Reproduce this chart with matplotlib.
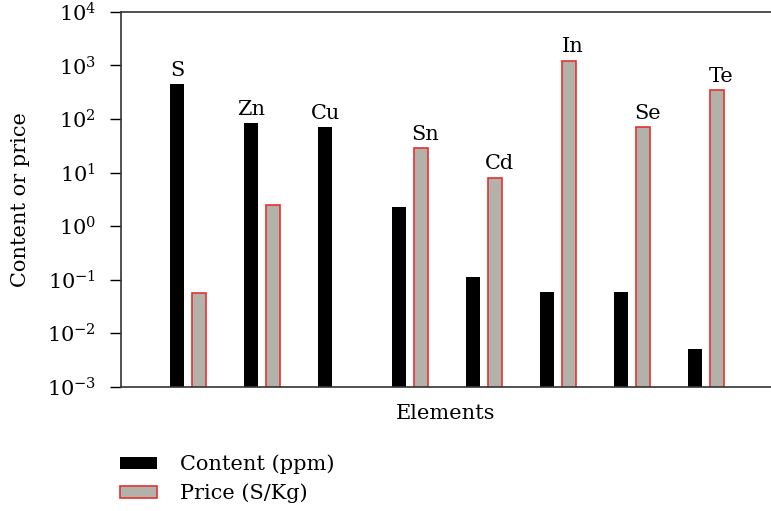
import matplotlib.pyplot as plt
import numpy as np

# Daten
elements = ["S", "Zn", "Cu", "Sn", "Cd", "In", "Se", "Te"]
content = [450, 85, 70, 2.3, 0.115, 0.058, 0.058, 0.0052]      # ppm
price = [0.057, 2.5, np.nan, 29, 8.1, 1230, 71, 350]            # S/Kg

plt.rcParams['font.family'] = ['DejaVu Serif']

fig = plt.figure(figsize=(7.71, 5.11), dpi=100)
ax = fig.add_axes([0.157, 0.2427, 0.843, 0.734])

x = np.arange(len(elements))
w = 0.19
off = 0.145
ax.bar(x - off, content, w, color='black', label='Content (ppm)', log=True)
ax.bar(x + off, price, w, color='#b2b2aa', edgecolor='#e8312f', linewidth=1.2,
       label='Price (S/Kg)', log=True)

# Beschriftung über dem höheren Balken
for i, el in enumerate(elements):
    c, p = content[i], price[i]
    if np.isnan(p) or c >= p:
        xi, top = x[i] - off, c
    else:
        xi, top = x[i] + off + 0.06, p
    ax.text(xi, top * 1.2, el, ha='center', va='bottom', fontsize=15)

ax.set_yscale('log')
ax.set_ylim(1e-3, 1e4)
ax.set_xlim(-0.905, 7.88)
ax.set_xticks([])
ax.yaxis.set_minor_locator(plt.NullLocator())
ax.tick_params(axis='y', which='major', length=8, width=1, labelsize=15, pad=10)
ax.spines['right'].set_visible(False)
for s in ['left', 'top', 'bottom']:
    ax.spines[s].set_linewidth(1.2)
    ax.spines[s].set_color('#333333')

ax.set_xlabel('Elements', fontsize=15, labelpad=12)
ax.set_ylabel('Content or price', fontsize=15, labelpad=12)

fig.legend(loc='lower left', bbox_to_anchor=(0.131, -0.022), frameon=False,
           fontsize=15, handlelength=1.8, handleheight=0.5, handletextpad=1.1,
           labelspacing=0.45)

fig.savefig('out.png', dpi=100)
